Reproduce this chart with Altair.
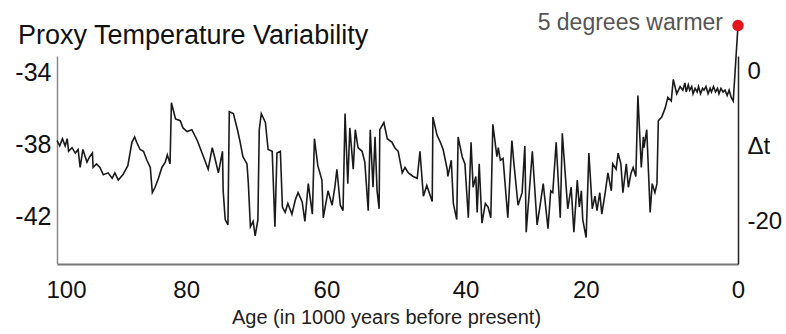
import altair as alt
import pandas as pd

# Age in thousands of years before present
age = [100.0, 99.6, 99.2, 98.8, 98.5, 98.3, 97.8, 97.3, 96.9, 96.6, 96.2, 95.6, 95.2, 94.8, 94.7, 94.2,
       93.7, 93.2, 92.5, 91.9, 91.5, 91.0, 90.3, 89.6, 89.0, 88.6, 88.3, 87.8, 87.3, 86.8, 86.3, 86.0,
       85.6, 85.1, 84.6, 84.1, 83.8, 83.4, 83.2, 82.6, 81.9, 81.5, 80.9, 80.2, 79.4, 78.7, 78.2, 77.8,
       77.2, 76.8, 76.3, 75.7, 75.6, 75.3, 74.9, 74.7, 74.1, 73.5, 73.1, 72.7, 72.1, 71.9, 71.6, 71.2,
       70.9, 70.5, 70.3, 70.0, 69.4, 69.0, 68.4, 68.0, 67.7, 67.2, 66.9, 66.5, 66.1, 65.5, 65.0, 64.6,
       64.0, 63.6, 63.1, 62.5, 62.2, 61.7, 61.1, 60.9, 60.2, 59.6, 59.2, 58.9, 58.4, 58.0, 57.7, 57.3,
       57.0, 56.5, 56.2, 55.8, 55.2, 54.8, 54.3, 54.0, 53.6, 53.3, 53.0, 52.7, 52.6, 52.0, 51.5, 50.8,
       50.4, 49.9, 49.3, 48.9, 48.4, 47.7, 47.1, 46.7, 46.2, 45.7, 44.9, 44.8, 44.2, 43.7, 43.3, 42.7,
       42.6, 42.1, 41.8, 41.3, 41.1, 40.5, 40.1, 39.6, 39.2, 38.9, 38.5, 38.3, 38.0, 37.6, 37.1, 36.7,
       36.3, 36.0, 35.4, 35.2, 34.9, 34.5, 33.8, 33.2, 32.9, 32.3, 31.7, 31.3, 31.1, 30.7, 30.2, 29.5,
       29.1, 28.6, 27.9, 27.5, 27.2, 26.7, 26.1, 25.8, 25.0, 24.5, 24.1, 23.6, 23.3, 23.0, 22.8, 22.3,
       21.9, 21.4, 21.0, 20.7, 20.3, 20.0, 19.5, 19.1, 18.6, 18.4, 17.9, 17.6, 17.2, 16.9, 16.4, 16.1,
       15.7, 15.4, 15.0, 14.7, 14.2, 13.9, 13.8, 13.4, 12.9, 12.6, 12.2, 11.9, 11.7, 11.2, 10.7, 10.3,
       9.8, 9.5, 9.0, 8.5, 8.1, 7.8, 7.6, 7.3, 7.1, 6.8, 6.6, 6.3, 6.0, 5.8, 5.5, 5.2,
       5.0, 4.7, 4.4, 4.1, 3.9, 3.6, 3.3, 3.0, 2.8, 2.5, 2.2, 1.9, 1.6, 1.3, 1.0, 0.7,
       0.0]

# Proxy temperature (left axis units)
temp = [-37.8, -38.1, -37.7, -38.1, -37.7, -38.4, -38.2, -38.5, -38.3, -39.3, -38.3, -39.0, -38.7, -38.5, -39.3, -39.1,
        -39.3, -39.7, -39.6, -39.9, -39.6, -40.0, -39.7, -39.2, -37.9, -37.6, -37.9, -38.3, -38.4, -38.9, -39.3, -40.7,
        -40.4, -39.9, -39.3, -39.0, -38.6, -39.1, -35.7, -36.6, -36.7, -37.1, -37.3, -37.2, -37.8, -38.5, -39.0, -39.4,
        -38.2, -38.8, -39.6, -38.4, -40.6, -42.2, -42.5, -36.2, -36.3, -37.2, -37.9, -38.7, -39.1, -40.2, -42.6, -42.3,
        -43.1, -42.2, -37.2, -36.3, -36.8, -38.3, -38.4, -42.6, -38.5, -38.4, -41.5, -41.8, -41.3, -41.9, -41.1, -40.7,
        -41.2, -42.3, -40.2, -41.9, -37.7, -39.2, -40.0, -42.1, -40.6, -41.4, -40.4, -39.4, -41.4, -41.7, -36.3, -40.2,
        -37.1, -39.4, -37.2, -38.2, -38.4, -39.0, -41.7, -37.2, -40.4, -37.6, -40.6, -41.6, -37.2, -36.8, -37.7, -37.9,
        -38.2, -38.4, -39.6, -39.3, -39.6, -39.8, -39.9, -38.4, -40.9, -40.3, -41.2, -36.5, -37.5, -37.9, -38.3, -39.4,
        -39.8, -38.9, -41.3, -42.2, -37.6, -38.7, -39.1, -42.1, -37.9, -40.4, -39.8, -41.8, -39.1, -42.4, -41.3, -41.5,
        -42.1, -36.9, -38.7, -38.2, -38.9, -38.8, -42.1, -37.8, -39.1, -41.4, -40.7, -38.1, -42.9, -40.9, -38.4, -42.5,
        -41.5, -40.2, -42.7, -40.6, -40.7, -37.9, -42.1, -37.4, -41.6, -40.4, -42.9, -40.0, -41.5, -40.6, -42.2, -43.2,
        -38.5, -41.6, -40.9, -41.7, -40.7, -41.9, -40.7, -39.6, -40.6, -39.1, -39.4, -38.5, -39.1, -40.7, -39.1, -40.4,
        -39.6, -39.3, -39.8, -35.3, -39.3, -37.6, -38.2, -37.2, -41.8, -40.2, -40.7, -40.2, -36.7, -36.5, -36.0, -35.4,
        -35.6, -34.4, -35.2, -34.8, -35.0, -34.6, -35.1, -34.7, -35.0, -34.8, -35.2, -34.9, -35.1, -34.8, -35.2, -34.9,
        -35.0, -34.8, -35.2, -34.9, -35.1, -34.8, -35.1, -34.9, -35.2, -34.9, -35.1, -35.0, -35.3, -35.0, -35.4, -35.6,
        -31.4]

dot_age = [0.0]
dot_temp = [-31.4]
note = ["5 degrees warmer"]
title_text = ["Proxy Temperature Variability"]
x_ticks = [100, 80, 60, 40, 20, 0]
left_ticks = [-34, -38, -42]
right_ticks = [0, -10, -20]

FONT = "Liberation Sans"

df = pd.DataFrame({"age": age, "temp": temp})
dot_df = pd.DataFrame({"age": dot_age, "temp": dot_temp, "note": note})
right_df = pd.DataFrame({"age": [0.0] * len(right_ticks), "delta": right_ticks})
title_df = pd.DataFrame({"t": title_text})

xscale = alt.Scale(domain=[0, 100], reverse=True, nice=False)
x_enc = alt.X("age:Q", scale=xscale,
              axis=alt.Axis(values=x_ticks, title="Age (in 1000 years before present)",
                            grid=False, ticks=False, tickSize=0, labelPadding=14,
                            labelFlush=False,
                            labelOffset={"expr": "datum.value == 100 ? 9 : datum.value == 80 ? -7 : datum.value == 20 ? -16 : datum.value == 60 ? -3 : 0"},
                            labelFontSize=24, labelFont=FONT, labelColor="#111",
                            labelExpr="toString(datum.value)",
                            titleFontSize=20, titleFont=FONT, titleFontWeight="normal",
                            titleColor="#222", titlePadding=5, titleX=329, titleAlign="center",
                            domainColor="#777", domainWidth=2))
yscale = alt.Scale(domain=[-44.67, -33.1], nice=False, zero=False)
y_enc = alt.Y("temp:Q", scale=yscale,
              axis=alt.Axis(values=left_ticks, title=None, grid=False, ticks=False, tickSize=0,
                            labelPadding=6, labelFontSize=25, labelFont=FONT, labelColor="#111",
                            labelExpr="toString(datum.value)",
                            domainColor="#888", domainWidth=1.5))

line = alt.Chart(df).mark_line(color="#1a1a1a", strokeWidth=1.6).encode(x=x_enc, y=y_enc)

dot = alt.Chart(dot_df).mark_point(filled=True, color="#e5141b", size=130, opacity=1).encode(
    x=alt.X("age:Q", scale=xscale), y=alt.Y("temp:Q", scale=yscale))

label = alt.Chart(dot_df).mark_text(align="right", baseline="middle", dx=-15, dy=-2,
                                    fontSize=23, font=FONT, color="#555").encode(
    x=alt.X("age:Q", scale=xscale), y=alt.Y("temp:Q", scale=yscale), text="note:N")

title = alt.Chart(title_df).mark_text(align="left", baseline="middle", fontSize=27,
                                      font=FONT, color="#111").encode(
    x=alt.value(-39), y=alt.value(-20), text="t:N")

left_layer = alt.layer(line, dot, label, title)

right = alt.Chart(right_df).mark_point(opacity=0).encode(
    x=alt.X("age:Q", scale=xscale),
    y=alt.Y("delta:Q", scale=alt.Scale(domain=[-25.6, 2.13], nice=False, zero=False),
            axis=alt.Axis(orient="right", values=right_ticks, title=None, grid=False,
                          ticks=False, tickSize=0, labelPadding=9, labelFontSize=24,
                          labelFont=FONT, labelColor="#111",
                          labelExpr="datum.value == -10 ? 'Δt' : toString(datum.value)",
                          domainColor="#222", domainWidth=1.5)))

chart = alt.layer(left_layer, right).resolve_scale(y="independent").properties(
    width=681, height=208,
    autosize=alt.AutoSizeParams(type="none"),
    padding={"left": 57, "top": 56, "right": 48, "bottom": 70},
    background="white",
).configure_view(stroke=None)

chart.save("out.html", embed_options={"renderer": "svg", "actions": False})
